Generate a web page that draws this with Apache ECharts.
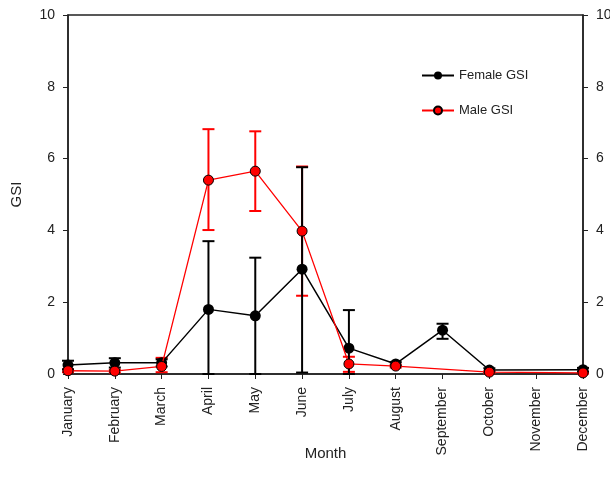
<!DOCTYPE html>
<html>
<head>
<meta charset="utf-8">
<script src="https://cdn.jsdelivr.net/npm/echarts@6/dist/echarts.min.js"></script>
<style>
html,body{margin:0;padding:0;background:#fff;}
#chart{width:610px;height:488px;}
</style>
</head>
<body>
<div id="chart"></div>
<script>
const months = ['January','February','March','April','May','June','July','August','September','October','November','December'];
const femaleGSI  = [0.25, 0.31, 0.31, 1.80, 1.62, 2.92, 0.72, 0.28, 1.22, 0.11, null, 0.12];
const femaleHigh = [0.37, 0.44, 0.41, 3.70, 3.24, 5.76, 1.78, 0.33, 1.40, 0.16, null, 0.17];
const femaleLow  = [0.13, 0.18, 0.21, 0.00, 0.00, 0.04, 0.00, 0.23, 0.98, 0.06, null, 0.07];
const maleGSI    = [0.09, 0.08, 0.21, 5.40, 5.65, 3.98, 0.28, 0.22, null, 0.05, null, 0.03];
const maleHigh   = [0.13, 0.12, 0.45, 6.82, 6.76, 5.78, 0.48, 0.26, null, 0.08, null, 0.05];
const maleLow    = [0.05, 0.04, 0.05, 4.01, 4.54, 2.18, 0.06, 0.18, null, 0.02, null, 0.01];
const yTicks = [0, 2, 4, 6, 8, 10];

function errData(hi, lo) {
  const out = [];
  for (let i = 0; i < months.length; i++) {
    if (hi[i] != null) out.push([i, lo[i], hi[i]]);
  }
  return out;
}
function errSeries(name, hi, lo, color, width) {
  return {
    type: 'custom',
    name: name,
    xAxisIndex: 0, yAxisIndex: 0,
    data: errData(hi, lo),
    silent: true,
    renderItem: function (params, api) {
      const x = api.value(0);
      const top = api.coord([x, api.value(2)]);
      const bot = api.coord([x, api.value(1)]);
      const half = 6;
      const style = { stroke: color, lineWidth: width, fill: null };
      return {
        type: 'group',
        children: [
          { type: 'line', shape: { x1: top[0], y1: top[1], x2: bot[0], y2: bot[1] }, style: style },
          { type: 'line', shape: { x1: top[0] - half, y1: top[1], x2: top[0] + half, y2: top[1] }, style: style },
          { type: 'line', shape: { x1: bot[0] - half, y1: bot[1], x2: bot[0] + half, y2: bot[1] }, style: style }
        ]
      };
    },
    z: 1
  };
}

const chart = echarts.init(document.getElementById('chart'), null, { renderer: 'canvas' });
const axisColor = '#222';
const font = 'Liberation Sans, Arial, sans-serif';
const yAxisCommon = {
  type: 'value', min: 0, max: 10, interval: 2,
  axisLine: { show: true, lineStyle: { color: axisColor, width: 1.5 } },
  axisTick: { show: true, length: 5, lineStyle: { color: axisColor } },
  splitLine: { show: false },
  axisLabel: { color: axisColor, fontSize: 14, fontFamily: font, margin: 13,
    formatter: function (v) { return yTicks.indexOf(v) >= 0 ? String(v) : ''; } }
};

chart.setOption({
  animation: false,
  backgroundColor: '#fff',
  grid: { left: 68, right: 27, top: 15, bottom: 114, containLabel: false, outerBoundsMode: 'none',
    show: true, borderColor: axisColor, borderWidth: 1.5 },
  legend: {
    orient: 'vertical', left: 416, top: 64, itemGap: 22, itemWidth: 32, itemHeight: 10,
    textStyle: { color: axisColor, fontSize: 13, fontFamily: font },
    data: ['Female GSI', 'Male GSI']
  },
  xAxis: {
    type: 'category', data: months, boundaryGap: false,
    name: 'Month', nameLocation: 'middle', nameGap: 72, nameMoveOverlap: false,
    nameTextStyle: { color: axisColor, fontSize: 15, fontFamily: font },
    axisLine: { lineStyle: { color: axisColor, width: 1.5 } },
    axisTick: { show: true, length: 5, alignWithLabel: true, lineStyle: { color: axisColor } },
    axisLabel: { rotate: 90, interval: 0, color: axisColor, fontSize: 14, fontFamily: font, margin: 13 },
    splitLine: { show: false }
  },
  yAxis: [
    Object.assign({}, yAxisCommon, { position: 'left', name: 'GSI', nameLocation: 'middle', nameGap: 44,
      nameMoveOverlap: false,
      nameTextStyle: { color: axisColor, fontSize: 15, fontFamily: font } }),
    Object.assign({}, yAxisCommon, { position: 'right' })
  ],
  series: [
    errSeries('maleErr', maleHigh, maleLow, '#ff0000', 2),
    errSeries('femaleErr', femaleHigh, femaleLow, '#000000', 2),
    {
      name: 'Male GSI', type: 'line', data: maleGSI, connectNulls: true,
      symbol: 'circle', symbolSize: 10,
      lineStyle: { color: '#ff0000', width: 1.3 },
      itemStyle: { color: '#ff0000', borderColor: '#000', borderWidth: 1 },
      z: 3
    },
    {
      name: 'Female GSI', type: 'line', data: femaleGSI, connectNulls: true,
      symbol: 'circle', symbolSize: 11,
      lineStyle: { color: '#000', width: 1.5 },
      itemStyle: { color: '#000' },
      z: 2
    }
  ]
});
</script>
</body>
</html>
